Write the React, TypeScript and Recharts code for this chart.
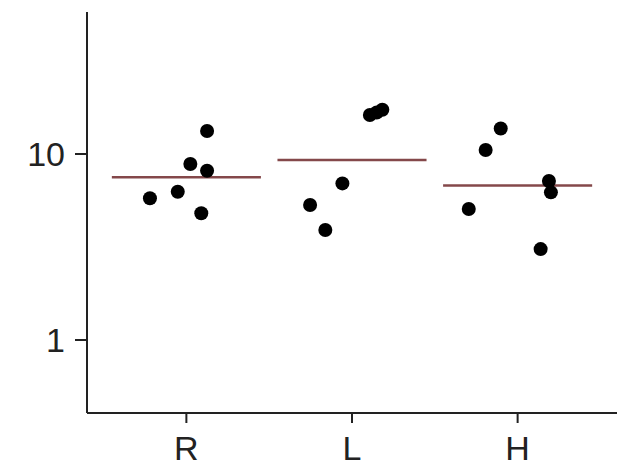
import { ScatterChart, Scatter, XAxis, YAxis, ReferenceLine } from 'recharts';

const categories = ['R', 'L', 'H'];

// values, with the jittered x position of each dot
const rValues = [5.78, 6.27, 8.84, 4.8, 13.3, 8.13];
const rJitter = [0.78, 0.948, 1.024, 1.09, 1.125, 1.125];
const lValues = [5.32, 3.9, 6.95, 16.2, 16.7, 17.3];
const lJitter = [1.747, 1.839, 1.942, 2.108, 2.149, 2.183];
const hValues = [5.06, 10.5, 13.7, 3.08, 7.16, 6.22];
const hJitter = [2.705, 2.807, 2.898, 3.139, 3.189, 3.201];

const groupMeans = [7.5, 9.29, 6.76];

const yTicks = [1, 10];

const toPoints = (xs: number[], ys: number[]) => ys.map((y, i) => ({ x: xs[i], y }));

const groups = [toPoints(rJitter, rValues), toPoints(lJitter, lValues), toPoints(hJitter, hValues)];

const tickFont = { fill: '#222', fontSize: 34, fontFamily: 'Liberation Sans, Arial, sans-serif' };

export default function App() {
  return (
    <div style={{ position: 'absolute', left: 0, top: 0, background: '#fff' }}>
      <ScatterChart width={619} height={473} margin={{ top: 12, right: 2, bottom: 10, left: 17 }}>
        <XAxis
          type="number"
          dataKey="x"
          domain={[0.4, 3.6]}
          ticks={[1, 2, 3]}
          tickFormatter={(v: number) => categories[v - 1]}
          axisLine={{ stroke: '#222', strokeWidth: 2 }}
          tickLine={{ stroke: '#222', strokeWidth: 2 }}
          tickSize={10}
          tickMargin={13}
          height={50}
          tick={tickFont}
          allowDataOverflow
        />
        <YAxis
          type="number"
          dataKey="y"
          scale="log"
          domain={[0.405, 58]}
          ticks={yTicks}
          axisLine={{ stroke: '#222', strokeWidth: 2 }}
          tickLine={{ stroke: '#222', strokeWidth: 2 }}
          tickSize={12}
          tickMargin={10}
          width={70}
          tick={tickFont}
          allowDataOverflow
        />
        {groupMeans.map((m, i) => (
          <ReferenceLine
            key={categories[i]}
            segment={[
              { x: i + 1 - 0.45, y: m },
              { x: i + 1 + 0.45, y: m },
            ]}
            stroke="#84484a"
            strokeWidth={2.5}
          />
        ))}
        {groups.map((g, i) => (
          <Scatter
            key={categories[i]}
            data={g}
            fill="#000"
            isAnimationActive={false}
            shape={(p: any) => <circle cx={p.cx} cy={p.cy} r={7} fill="#000" />}
          />
        ))}
      </ScatterChart>
    </div>
  );
}
